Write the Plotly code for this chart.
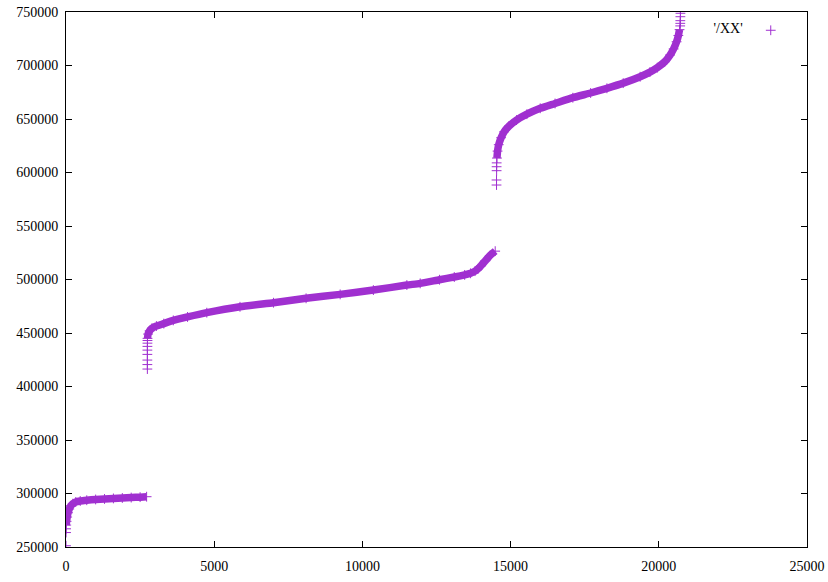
import plotly.graph_objects as go

# ---- data (x = index, y = value) ----
# isolated points (sparse crosses at the ends of each run)
iso_x = [0, 2, 4,
         2745, 2745, 2745, 2745, 2746, 2747, 2748, 2749,
         14525, 14525, 14528, 14528, 14530,
         20722, 20724, 20726, 20728, 20730]
iso_y = [251200, 263500, 267000,
         416300, 420500, 424700, 430000, 434000, 437500, 440500, 443000,
         588300, 593000, 601700, 605400, 609000,
         737000, 739400, 741900, 745600, 748800]

# dense runs
seg1_x = [8, 20, 40, 70, 110, 160, 230, 330, 480, 700, 1000, 1300, 1600, 1900, 2200, 2500, 2720]
seg1_y = [270500, 274000, 278000, 282000, 285500, 288500, 290500, 292100, 293000, 293700,
          294400, 294900, 295400, 295800, 296200, 296600, 297000]

seg2_x = [2750, 2770, 2820, 2900, 3050, 3300, 3620, 4100, 4750, 5870, 7000, 8100, 9250,
          10370, 11500, 11950, 12600, 13100, 13450, 13650, 13800, 13900, 14000, 14150,
          14300, 14480]
seg2_y = [445000, 449000, 452000, 454500, 456500, 458800, 461800, 465000, 469000, 474500,
          478300, 482400, 486100, 490100, 494800, 496400, 499800, 502300, 504300, 505800,
          507800, 510000, 512800, 517500, 522300, 526500]

seg3_x = [14540, 14560, 14600, 14680, 14780, 14950, 15200, 15550, 16000, 16500, 17100,
          17700, 18250, 18800, 19370, 19700, 19950, 20200, 20380, 20500, 20600, 20660, 20700]
seg3_y = [613500, 620000, 626000, 632500, 638000, 643500, 649000, 654500, 660000, 664500,
          669900, 674300, 678700, 683500, 689500, 693800, 698000, 703500, 709800, 715500,
          722200, 728000, 733500]

x_ticks = [0, 5000, 10000, 15000, 20000, 25000]
y_ticks = [250000, 300000, 350000, 400000, 450000, 500000, 550000, 600000, 650000, 700000, 750000]

COLOR = "#a030d0"
FONT = "Liberation Serif, Times New Roman, serif"

fig = go.Figure()
for sx, sy in [(seg1_x, seg1_y), (seg2_x, seg2_y), (seg3_x, seg3_y)]:
    fig.add_trace(go.Scatter(x=sx, y=sy, mode="lines", showlegend=False,
                             line=dict(color=COLOR, width=7.5, shape="spline", smoothing=0.5),
                             hoverinfo="skip"))

all_x = iso_x + seg1_x + seg2_x + seg3_x
all_y = iso_y + seg1_y + seg2_y + seg3_y
fig.add_trace(go.Scatter(x=all_x, y=all_y, mode="markers", name=" ", showlegend=True,
                         marker=dict(symbol="cross-thin", size=7,
                                     line=dict(color=COLOR, width=1), color=COLOR)))

axis_common = dict(showline=True, linecolor="black", linewidth=1, mirror="ticks",
                   ticks="inside", ticklen=6, tickcolor="black", showgrid=False,
                   zeroline=False, automargin=False,
                   tickfont=dict(family=FONT, size=14, color="black"))

fig.update_layout(
    width=828, height=582,
    margin=dict(l=66, r=21, t=12, b=35),
    paper_bgcolor="white", plot_bgcolor="white",
    xaxis=dict(range=[0, 25000], tickvals=x_ticks, ticktext=[str(v) for v in x_ticks],
               ticklabelstandoff=6, **axis_common),
    yaxis=dict(range=[250000, 750000], tickvals=y_ticks, ticktext=[str(v) for v in y_ticks],
               ticklabelstandoff=4, **axis_common),
    legend=dict(x=0.99, y=0.995, xanchor="right", yanchor="top", bgcolor="rgba(0,0,0,0)",
                title=dict(text="'/XX'", side="left", font=dict(family=FONT, size=14, color="black")),
                font=dict(family=FONT, size=14, color="black")),
    font=dict(family=FONT, size=14, color="black"),
)

fig.write_html("out.html", config={"displayModeBar": False},
               post_script="document.body.style.margin='0px';document.body.style.overflow='hidden';")
